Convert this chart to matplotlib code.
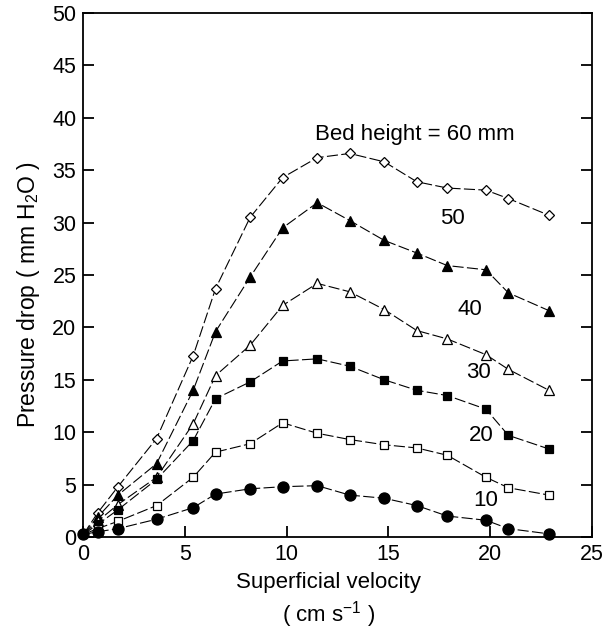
import matplotlib
matplotlib.use("Agg")
import matplotlib.pyplot as plt

plt.rcParams['font.family'] = ['Liberation Sans', 'DejaVu Sans']
plt.rcParams['mathtext.fontset'] = 'custom'
plt.rcParams['mathtext.rm'] = 'Liberation Sans'
plt.rcParams['mathtext.it'] = 'Liberation Sans'

# superficial velocity (cm/s), shared by all bed heights
velocity = [0, 0.7, 1.7, 3.6, 5.4, 6.5, 8.2, 9.8, 11.5, 13.1, 14.8, 16.4, 17.9, 19.8, 20.9, 22.9]

# pressure drop (mm H2O) for each bed height
drop_60 = [0.25, 2.3, 4.8, 9.4, 17.3, 23.7, 30.5, 34.3, 36.2, 36.6, 35.8, 33.9, 33.3, 33.1, 32.3, 30.7]
drop_50 = [0.25, 1.9, 4.0, 7.0, 14.0, 19.6, 24.8, 29.5, 31.9, 30.2, 28.3, 27.1, 25.9, 25.5, 23.3, 21.6]
drop_40 = [0.25, 1.5, 3.1, 5.7, 10.8, 15.4, 18.3, 22.1, 24.2, 23.4, 21.7, 19.7, 18.9, 17.4, 16.0, 14.0]
drop_30 = [0.25, 1.2, 2.6, 5.5, 9.2, 13.2, 14.8, 16.8, 17.0, 16.3, 15.0, 14.0, 13.5, 12.2, 9.7, 8.4]
drop_20 = [0.25, 0.8, 1.5, 3.0, 5.7, 8.1, 8.9, 10.9, 9.9, 9.3, 8.8, 8.5, 7.8, 5.7, 4.7, 4.0]
drop_10 = [0.25, 0.5, 0.8, 1.7, 2.8, 4.1, 4.6, 4.8, 4.9, 4.0, 3.7, 3.0, 2.0, 1.6, 0.8, 0.3]

bed_labels = ["Bed height = 60 mm", "50", "40", "30", "20", "10"]
label_x = [16.3, 18.15, 19.0, 19.45, 19.55, 19.8]
label_y = [38.4, 30.4, 21.7, 15.7, 9.7, 3.5]

fig = plt.figure(figsize=(6.15, 6.3), dpi=100)
ax = fig.add_axes([0.1356, 0.1476, 0.8265, 0.8317])

dash = (0, (10, 3))
series = [
    (drop_60, 'D', 'white', 5.4),
    (drop_50, '^', 'black', 7),
    (drop_40, '^', 'white', 7),
    (drop_30, 's', 'black', 5.6),
    (drop_20, 's', 'white', 5.8),
    (drop_10, 'o', 'black', 8),
]
for i, (ys, mk, fc, ms) in enumerate(series):
    every = slice(0, None) if mk == 'o' else slice(1, None)
    ax.plot(velocity, ys, color='black', linestyle=dash, linewidth=0.8,
            marker=mk, markersize=ms, markerfacecolor=fc,
            markeredgecolor='black', markeredgewidth=0.9,
            markevery=every, clip_on=False, zorder=3 + i)

for txt, tx, ty in zip(bed_labels, label_x, label_y):
    ax.text(tx, ty, txt, fontsize=16, ha='center', va='center')

ax.set_xlim(0, 25)
ax.set_ylim(0, 50)
ax.set_xticks([0, 5, 10, 15, 20, 25])
ax.set_yticks(range(0, 51, 5))
ax.tick_params(direction='in', length=8, width=1.3, labelsize=15.5,
               right=True, top=False, pad=5)
for sp in ax.spines.values():
    sp.set_linewidth(1.3)

ax.set_xlabel("Superficial velocity\n( cm s$^{-1}$ )", fontsize=16, linespacing=1.3)
ax.xaxis.set_label_coords(0.483, -0.066)
ax.set_ylabel("Pressure drop ( mm H$_2$O )", fontsize=16.5)
ax.yaxis.set_label_coords(-0.082, 0.462)

fig.savefig("out.png", dpi=100)
